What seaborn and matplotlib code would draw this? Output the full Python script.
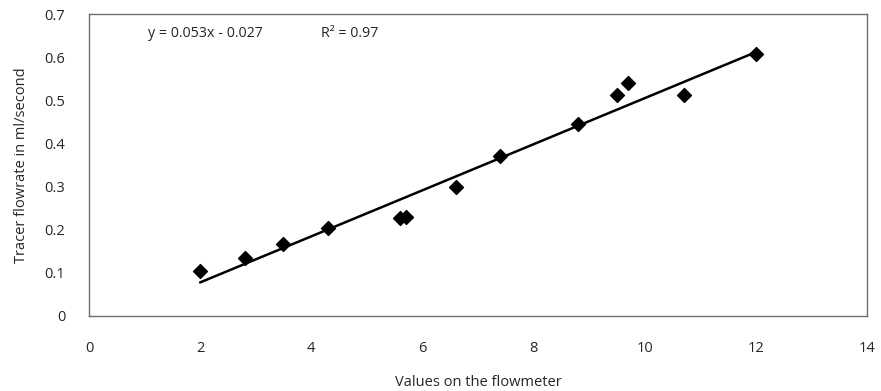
import numpy as np
import pandas as pd
import matplotlib.pyplot as plt
import seaborn as sns

# values
flowmeter = [2.0, 2.8, 3.5, 4.3, 5.6, 5.7, 6.6, 7.4, 8.8, 9.5, 9.7, 10.7, 12.0]
tracer = [0.105, 0.134, 0.166, 0.205, 0.227, 0.229, 0.298, 0.370, 0.445, 0.513, 0.541, 0.513, 0.607]
xticks = [0, 2, 4, 6, 8, 10, 12, 14]
yticks = [0, 0.1, 0.2, 0.3, 0.4, 0.5, 0.6, 0.7]
eq_text = "y = 0.053x - 0.027"
r2_text = "R\u00b2 = 0.97"

Data = pd.DataFrame({"flowmeter": flowmeter, "tracer": tracer})

sns.set_style("white")
plt.rcParams['font.family'] = ['Open Sans', 'DejaVu Sans']

fig = plt.figure(figsize=(8.81, 3.91), dpi=100)
ax = fig.add_axes([0.101, 0.192, 0.883, 0.772])

sns.regplot(data=Data, x="flowmeter", y="tracer", ax=ax, ci=None, color="black",
            marker="D", scatter_kws={"s": 50, "zorder": 3, "alpha": 1,
                                     "edgecolor": "black", "facecolor": "black"},
            line_kws={"linewidth": 1.8, "zorder": 2})

ax.set_xlim(0, 14)
ax.set_ylim(0, 0.7)
ax.set_xticks(xticks)
ax.set_yticks(yticks)
ax.set_xticklabels([str(t) for t in xticks])
ax.set_yticklabels(["0"] + ["{:.1f}".format(t) for t in yticks[1:]])
ax.tick_params(axis="x", length=0, pad=18, labelsize=10.5)
ax.tick_params(axis="y", length=0, pad=17, labelsize=10.5)

for s in ax.spines.values():
    s.set_color("#6e6e6e")
    s.set_linewidth(1.0)

ax.set_xlabel("Values on the flowmeter", fontsize=10.5, labelpad=14)
ax.set_ylabel("Tracer flowrate in ml/second", fontsize=10.5, labelpad=11)

ax.text(0.076, 0.935, eq_text, transform=ax.transAxes, fontsize=10.3, va="center")
ax.text(0.298, 0.935, r2_text, transform=ax.transAxes, fontsize=10.3, va="center")

fig.savefig("out.png", dpi=100)
